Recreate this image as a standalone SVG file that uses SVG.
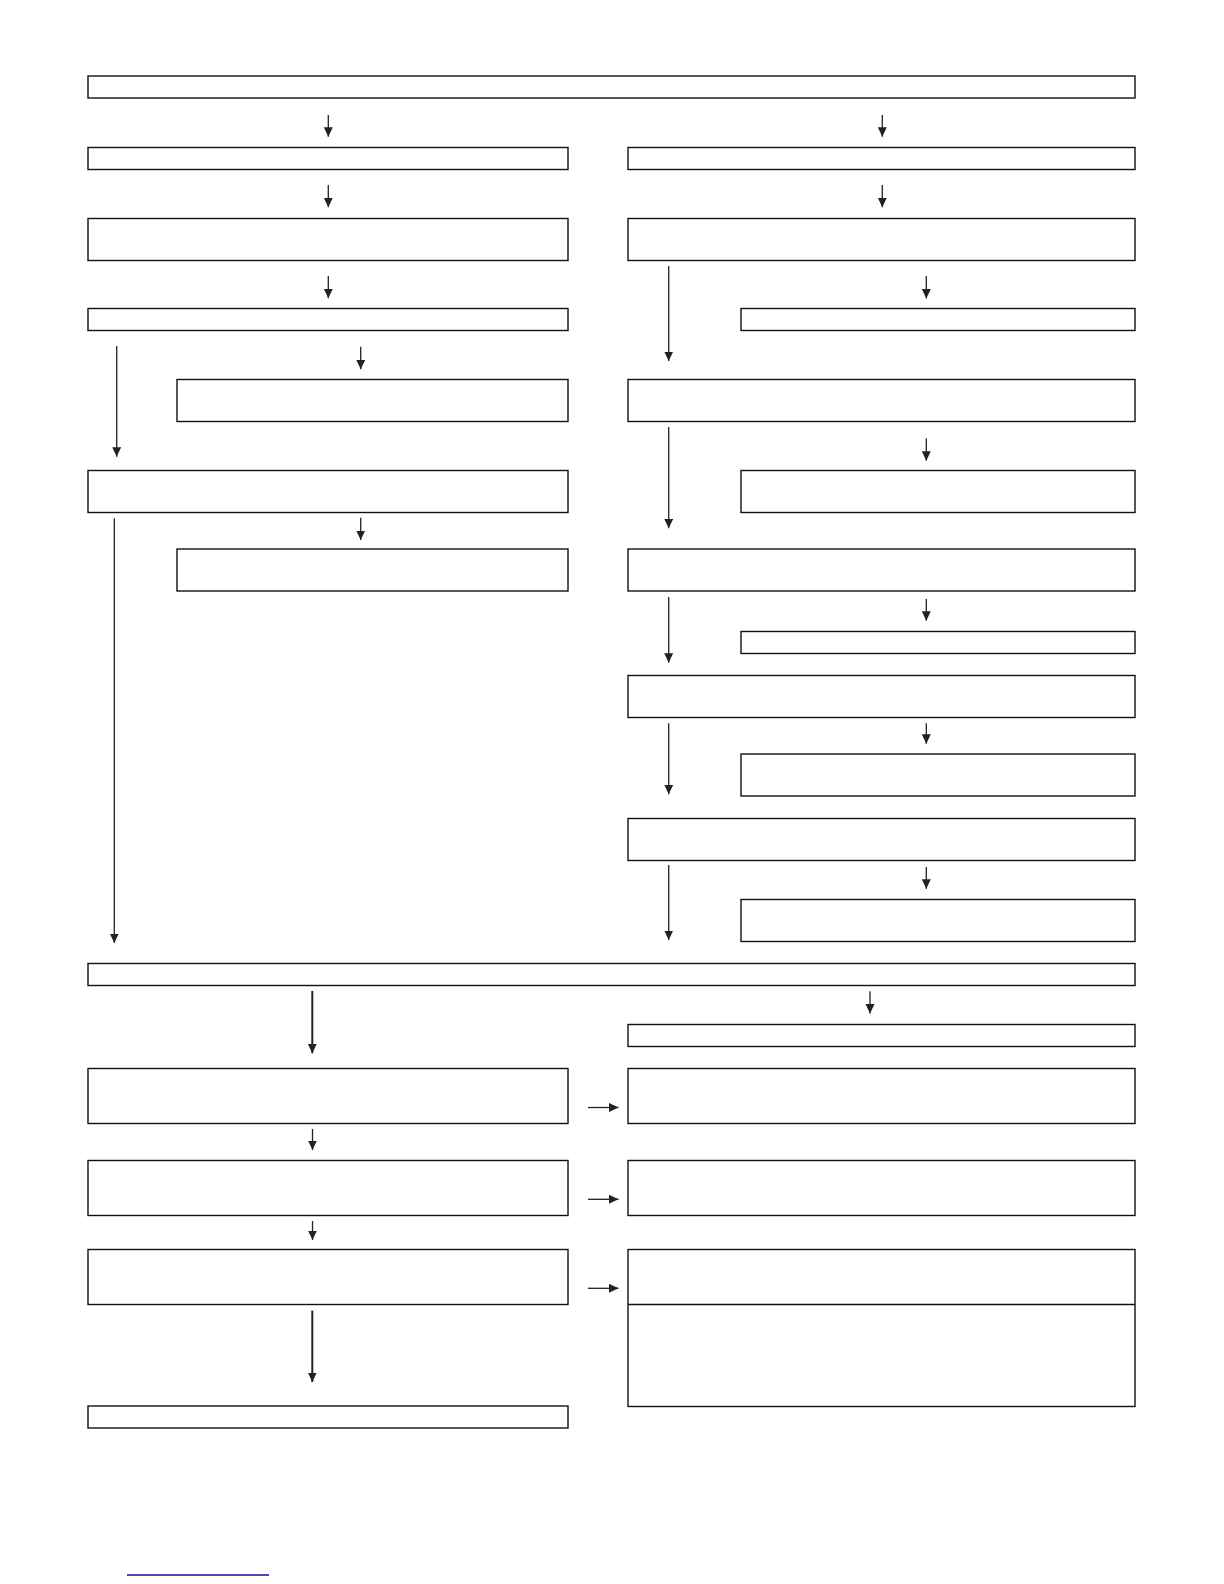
<svg xmlns="http://www.w3.org/2000/svg" width="1224" height="1584" viewBox="0 0 1224 1584">
<defs>
<style>
.n{fill:#fff;stroke:#111;stroke-width:1.4}
.c{stroke:#222;stroke-width:1.3;fill:none;marker-end:url(#ah)}
.t{stroke-width:2}
</style>
<marker id="ah" markerUnits="userSpaceOnUse" markerWidth="12" markerHeight="10" refX="9.5" refY="4.5" orient="auto">
<path d="M0,0 L9.5,4.5 L0,9 Z" fill="#222"/>
</marker>
</defs>
<rect width="1224" height="1584" fill="#fff"/>
<g id="nodes">
<g id="n1"><rect class="n" x="88" y="76" width="1047" height="22"/></g>
<g id="n2"><rect class="n" x="88" y="147.5" width="480" height="22"/></g>
<g id="n3"><rect class="n" x="628" y="147.5" width="507" height="22"/></g>
<g id="n4"><rect class="n" x="88" y="218.5" width="480" height="42"/></g>
<g id="n5"><rect class="n" x="628" y="218.5" width="507" height="42"/></g>
<g id="n6"><rect class="n" x="88" y="308.5" width="480" height="22"/></g>
<g id="n7"><rect class="n" x="741" y="308.5" width="394" height="22"/></g>
<g id="n8"><rect class="n" x="177" y="379.5" width="391" height="42"/></g>
<g id="n9"><rect class="n" x="628" y="379.5" width="507" height="42"/></g>
<g id="n10"><rect class="n" x="88" y="470.5" width="480" height="42"/></g>
<g id="n11"><rect class="n" x="741" y="470.5" width="394" height="42"/></g>
<g id="n12"><rect class="n" x="177" y="549" width="391" height="42"/></g>
<g id="n13"><rect class="n" x="628" y="549" width="507" height="42"/></g>
<g id="n14"><rect class="n" x="741" y="631.5" width="394" height="22"/></g>
<g id="n15"><rect class="n" x="628" y="675.5" width="507" height="42"/></g>
<g id="n16"><rect class="n" x="741" y="754" width="394" height="42"/></g>
<g id="n17"><rect class="n" x="628" y="818.5" width="507" height="42"/></g>
<g id="n18"><rect class="n" x="741" y="899.5" width="394" height="42"/></g>
<g id="n19"><rect class="n" x="88" y="963.5" width="1047" height="22"/></g>
<g id="n20"><rect class="n" x="628" y="1024.5" width="507" height="22"/></g>
<g id="n21"><rect class="n" x="88" y="1068.5" width="480" height="55"/></g>
<g id="n22"><rect class="n" x="628" y="1068.5" width="507" height="55"/></g>
<g id="n23"><rect class="n" x="88" y="1160.5" width="480" height="55"/></g>
<g id="n24"><rect class="n" x="628" y="1160.5" width="507" height="55"/></g>
<g id="n25"><rect class="n" x="88" y="1249.5" width="480" height="55"/></g>
<g id="n26"><rect class="n" x="628" y="1249.5" width="507" height="157"/><line class="n" x1="628" y1="1304.5" x2="1135" y2="1304.5"/></g>
<g id="n27"><rect class="n" x="88" y="1406" width="480" height="22"/></g>
</g>
<g id="connectors">
<line class="c" x1="328.3" y1="115" x2="328.3" y2="136.7"/>
<line class="c" x1="882.3" y1="115" x2="882.3" y2="136.7"/>
<line class="c" x1="328.3" y1="185" x2="328.3" y2="207.3"/>
<line class="c" x1="882.3" y1="185" x2="882.3" y2="207.3"/>
<line class="c" x1="328.3" y1="276" x2="328.3" y2="298.3"/>
<line class="c" x1="926.3" y1="276" x2="926.3" y2="298.5"/>
<line class="c" x1="668.7" y1="266" x2="668.7" y2="361"/>
<line class="c" x1="116.7" y1="346" x2="116.7" y2="456.7"/>
<line class="c" x1="360.7" y1="346.7" x2="360.7" y2="369.3"/>
<line class="c" x1="926.3" y1="438.3" x2="926.3" y2="460.7"/>
<line class="c" x1="668.7" y1="427" x2="668.7" y2="528.3"/>
<line class="c" x1="114.3" y1="518.3" x2="114.3" y2="943"/>
<line class="c" x1="360.7" y1="517.7" x2="360.7" y2="540"/>
<line class="c" x1="668.7" y1="597" x2="668.7" y2="662.7"/>
<line class="c" x1="926.3" y1="599" x2="926.3" y2="620.7"/>
<line class="c" x1="668.7" y1="723.3" x2="668.7" y2="794.3"/>
<line class="c" x1="926.3" y1="723.3" x2="926.3" y2="743.7"/>
<line class="c" x1="668.7" y1="865" x2="668.7" y2="940"/>
<line class="c" x1="926.3" y1="867" x2="926.3" y2="888.7"/>
<line class="c t" x1="312.3" y1="991" x2="312.3" y2="1053.3"/>
<line class="c" x1="870" y1="991.3" x2="870" y2="1013.5"/>
<line class="c" x1="588" y1="1107.5" x2="618.5" y2="1107.5"/>
<line class="c" x1="312.5" y1="1129" x2="312.5" y2="1150"/>
<line class="c" x1="588" y1="1199.3" x2="618.5" y2="1199.3"/>
<line class="c" x1="312.5" y1="1221" x2="312.5" y2="1240"/>
<line class="c" x1="588" y1="1288.3" x2="618.5" y2="1288.3"/>
<line class="c t" x1="312.3" y1="1310.6" x2="312.3" y2="1382"/>
</g>
<line x1="127" y1="1575" x2="269" y2="1575" stroke="#0c0c9a" stroke-width="1.6"/>
</svg>
